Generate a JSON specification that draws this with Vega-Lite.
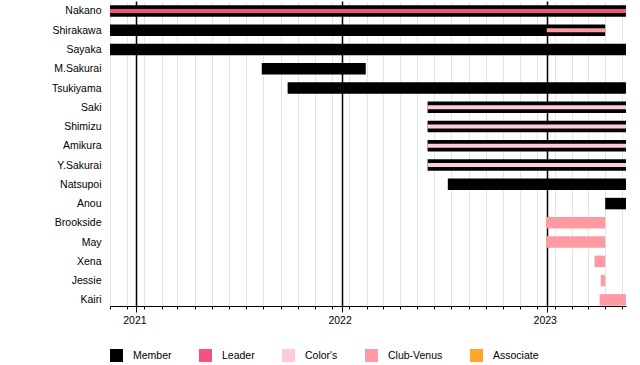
{
  "$schema": "https://vega.github.io/schema/vega-lite/v6.json",
  "width": 516,
  "height": 305,
  "autosize": {"type": "none"},
  "padding": {"left": 110, "top": 1, "right": 14, "bottom": 59},
  "config": {
    "view": {"stroke": null},
    "font": "Liberation Sans",
    "bar": {"cornerRadius": 0, "strokeWidth": 0}
  },
  "data": {
    "values": [
      {"name": "Nakano", "role": "Member", "kind": "bar", "start": "2020-11-15", "end": "2023-05-22"},
      {"name": "Nakano", "role": "Leader", "kind": "stripe", "start": "2020-11-15", "end": "2023-05-22"},
      {"name": "Shirakawa", "role": "Member", "kind": "bar", "start": "2020-11-15", "end": "2023-04-15"},
      {"name": "Shirakawa", "role": "Club-Venus", "kind": "stripe", "start": "2023-01-01", "end": "2023-04-15"},
      {"name": "Sayaka", "role": "Member", "kind": "bar", "start": "2020-11-15", "end": "2023-05-22"},
      {"name": "M.Sakurai", "role": "Member", "kind": "bar", "start": "2021-08-12", "end": "2022-02-13"},
      {"name": "Tsukiyama", "role": "Member", "kind": "bar", "start": "2021-09-27", "end": "2023-05-22"},
      {"name": "Saki", "role": "Member", "kind": "bar", "start": "2022-06-03", "end": "2023-05-22"},
      {"name": "Saki", "role": "Color's", "kind": "stripe", "start": "2022-06-03", "end": "2023-05-22"},
      {"name": "Shimizu", "role": "Member", "kind": "bar", "start": "2022-06-03", "end": "2023-05-22"},
      {"name": "Shimizu", "role": "Color's", "kind": "stripe", "start": "2022-06-03", "end": "2023-05-22"},
      {"name": "Amikura", "role": "Member", "kind": "bar", "start": "2022-06-03", "end": "2023-05-22"},
      {"name": "Amikura", "role": "Color's", "kind": "stripe", "start": "2022-06-03", "end": "2023-05-22"},
      {"name": "Y.Sakurai", "role": "Member", "kind": "bar", "start": "2022-06-03", "end": "2023-05-22"},
      {"name": "Y.Sakurai", "role": "Color's", "kind": "stripe", "start": "2022-06-03", "end": "2023-05-22"},
      {"name": "Natsupoi", "role": "Member", "kind": "bar", "start": "2022-07-09", "end": "2023-05-22"},
      {"name": "Anou", "role": "Member", "kind": "bar", "start": "2023-04-15", "end": "2023-05-22"},
      {"name": "Brookside", "role": "Club-Venus", "kind": "bar", "start": "2022-12-31", "end": "2023-04-15"},
      {"name": "May", "role": "Club-Venus", "kind": "bar", "start": "2022-12-31", "end": "2023-04-15"},
      {"name": "Xena", "role": "Club-Venus", "kind": "bar", "start": "2023-03-27", "end": "2023-04-15"},
      {"name": "Jessie", "role": "Club-Venus", "kind": "bar", "start": "2023-04-07", "end": "2023-04-15"},
      {"name": "Kairi", "role": "Club-Venus", "kind": "bar", "start": "2023-04-05", "end": "2023-05-22"}
    ]
  },
  "encoding": {
    "y": {
      "field": "name",
      "type": "nominal",
      "sort": ["Nakano", "Shirakawa", "Sayaka", "M.Sakurai", "Tsukiyama", "Saki", "Shimizu", "Amikura", "Y.Sakurai", "Natsupoi", "Anou", "Brookside", "May", "Xena", "Jessie", "Kairi"],
      "scale": {"type": "point", "padding": 0.418, "align": 0.62},
      "axis": {"title": null, "ticks": false, "domain": false, "grid": false, "labelPadding": 9, "labelFontSize": 10.5, "labelColor": "#000", "labelFont": "Liberation Sans"}
    },
    "x": {
      "field": "start",
      "type": "temporal",
      "scale": {
        "type": "utc",
        "nice": false,
        "domain": [{"year": 2020, "month": 11, "date": 15, "utc": true}, {"year": 2023, "month": 5, "date": 22, "utc": true}]
      },
      "axis": {
        "title": null,
        "values": [
          {"year": 2020, "month": 11, "date": 15, "utc": true},
          {"year": 2020, "month": 12, "date": 15, "utc": true},
          {"year": 2021, "month": 1, "date": 1, "utc": true},
          {"year": 2021, "month": 1, "date": 15, "utc": true},
          {"year": 2021, "month": 2, "date": 15, "utc": true},
          {"year": 2021, "month": 3, "date": 15, "utc": true},
          {"year": 2021, "month": 4, "date": 15, "utc": true},
          {"year": 2021, "month": 5, "date": 15, "utc": true},
          {"year": 2021, "month": 6, "date": 15, "utc": true},
          {"year": 2021, "month": 7, "date": 15, "utc": true},
          {"year": 2021, "month": 8, "date": 15, "utc": true},
          {"year": 2021, "month": 9, "date": 15, "utc": true},
          {"year": 2021, "month": 10, "date": 15, "utc": true},
          {"year": 2021, "month": 11, "date": 15, "utc": true},
          {"year": 2021, "month": 12, "date": 15, "utc": true},
          {"year": 2022, "month": 1, "date": 1, "utc": true},
          {"year": 2022, "month": 1, "date": 15, "utc": true},
          {"year": 2022, "month": 2, "date": 15, "utc": true},
          {"year": 2022, "month": 3, "date": 15, "utc": true},
          {"year": 2022, "month": 4, "date": 15, "utc": true},
          {"year": 2022, "month": 5, "date": 15, "utc": true},
          {"year": 2022, "month": 6, "date": 15, "utc": true},
          {"year": 2022, "month": 7, "date": 15, "utc": true},
          {"year": 2022, "month": 8, "date": 15, "utc": true},
          {"year": 2022, "month": 9, "date": 15, "utc": true},
          {"year": 2022, "month": 10, "date": 15, "utc": true},
          {"year": 2022, "month": 11, "date": 15, "utc": true},
          {"year": 2022, "month": 12, "date": 15, "utc": true},
          {"year": 2023, "month": 1, "date": 1, "utc": true},
          {"year": 2023, "month": 1, "date": 15, "utc": true},
          {"year": 2023, "month": 2, "date": 15, "utc": true},
          {"year": 2023, "month": 3, "date": 15, "utc": true},
          {"year": 2023, "month": 4, "date": 15, "utc": true},
          {"year": 2023, "month": 5, "date": 15, "utc": true}
        ],
        "grid": true,
        "gridColor": {"condition": {"test": "utcdate(datum.value) == 1", "value": "#000000"}, "value": "#e4e4e4"},
        "gridWidth": {"condition": {"test": "utcdate(datum.value) == 1", "value": 1.5}, "value": 1},
        "tickSize": {"condition": {"test": "utcdate(datum.value) == 1", "value": 6}, "value": 3},
        "tickColor": "#000",
        "domainColor": "#000",
        "labelExpr": "utcdate(datum.value) == 1 ? utcFormat(datum.value, '%Y') : ''",
        "labelFont": "Liberation Sans",
        "labelFontSize": 10.5,
        "labelColor": "#000",
        "labelOffset": -2,
        "labelPadding": 3,
        "labelOverlap": false,
        "labelFlush": false,
        "labelBound": false
      }
    },
    "x2": {"field": "end"},
    "color": {
      "field": "role",
      "type": "nominal",
      "scale": {
        "domain": ["Member", "Leader", "Color's", "Club-Venus", "Associate"],
        "range": ["#000000", "#F7527F", "#FFCCD5", "#FF9AA2", "#FFA52B"]
      },
      "legend": {
        "title": null,
        "orient": "bottom",
        "direction": "horizontal",
        "columns": 5,
        "offset": 23,
        "symbolType": "square",
        "symbolSize": 169,
        "symbolStrokeWidth": 0,
        "labelFont": "Liberation Sans",
        "labelFontSize": 10.5,
        "labelColor": "#000",
        "labelOffset": 10,
        "columnPadding": 27
      }
    }
  },
  "layer": [
    {
      "transform": [{"filter": "datum.kind == 'bar'"}],
      "mark": {"type": "bar", "height": 11.5}
    },
    {
      "transform": [{"filter": "datum.kind == 'stripe'"}],
      "mark": {"type": "bar", "height": 4}
    }
  ]
}
